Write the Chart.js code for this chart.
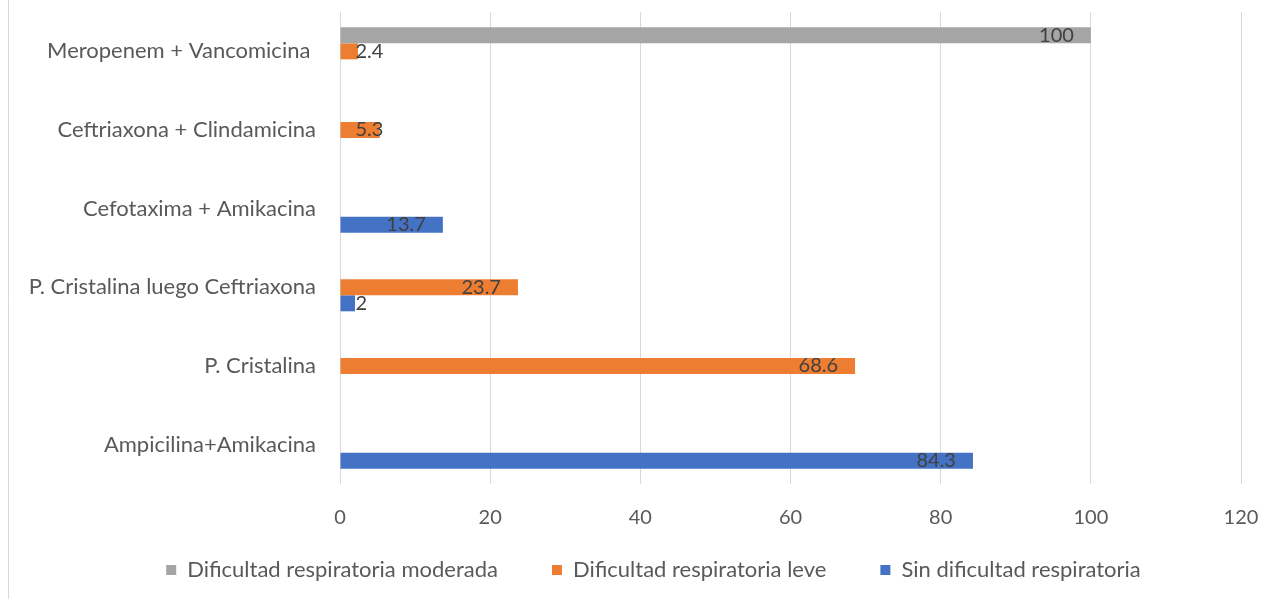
<!DOCTYPE html>
<html>
  <head>
    <meta charset="utf-8" />
    <title>Tratamiento y dificultad respiratoria</title>
    <style>
      html, body { margin: 0; padding: 0; background: #ffffff; }
      canvas { display: block; }
    </style>
  </head>
  <body>
    <canvas id="screen" width="1266" height="599"></canvas>
    <script src="https://cdn.jsdelivr.net/npm/chart.js@4.4.1/dist/chart.umd.min.js"></script>
    <script>
      // categories, top to bottom
      const tratamientos = [
        "Meropenem + Vancomicina ",
        "Ceftriaxona + Clindamicina",
        "Cefotaxima + Amikacina",
        "P. Cristalina luego Ceftriaxona",
        "P. Cristalina",
        "Ampicilina+Amikacina"
      ];

      // percentages per series (null = no bar)
      const moderada = [100, null, null, null, null, null];
      const leve = [2.4, 5.3, null, 23.7, 68.6, null];
      const sinDificultad = [null, null, 13.7, 2, null, 84.3];

      const xTicks = [0, 20, 40, 60, 80, 100, 120];

      const FONT = "Lato";
      const textColor = "#595959";

      // value labels at the inner end of each bar, pushed right when the bar is too short
      const barLabels = {
        id: "barLabels",
        afterDatasetsDraw(chart) {
          const ctx = chart.ctx;
          ctx.save();
          ctx.font = "20px " + FONT;
          ctx.fillStyle = "#404040";
          ctx.textAlign = "right";
          ctx.textBaseline = "middle";
          chart.data.datasets.forEach((ds, i) => {
            const meta = chart.getDatasetMeta(i);
            meta.data.forEach((bar, j) => {
              const v = ds.data[j];
              if (v === null || v === undefined) return;
              const txt = String(v);
              const w = ctx.measureText(txt).width;
              const right = Math.max(bar.x - 17, bar.base + 15 + w);
              ctx.fillText(txt, right, bar.y);
            });
          });
          ctx.restore();
        }
      };

      // thin frame line on the left edge
      const frame = {
        id: "frame",
        beforeDraw(chart) {
          const ctx = chart.ctx;
          ctx.save();
          ctx.strokeStyle = "#d9d9d9";
          ctx.lineWidth = 1;
          ctx.beginPath();
          ctx.moveTo(8.5, 0);
          ctx.lineTo(8.5, chart.height);
          ctx.stroke();
          ctx.restore();
        }
      };

      // nudge the legend row: up closer to the axis, and a bit to the right
      // (bottom is opened up so the legend's clip box does not cut the text)
      const legendPlace = {
        id: "legendPlace",
        afterLayout(chart) {
          const lg = chart.legend;
          lg.top -= 25;
          lg.bottom = chart.height;
          lg.left += 33;
          lg.right += 33;
        }
      };

      const ctx = document.getElementById("screen").getContext("2d");

      const chart = new Chart(ctx, {
        type: "bar",
        data: {
          labels: tratamientos,
          datasets: [
            {
              label: "Dificultad respiratoria moderada",
              data: moderada,
              backgroundColor: "#a5a5a5"
            },
            {
              label: "Dificultad respiratoria leve",
              data: leve,
              backgroundColor: "#ed7d31"
            },
            {
              label: "Sin dificultad respiratoria",
              data: sinDificultad,
              backgroundColor: "#4472c4"
            }
          ]
        },
        options: {
          indexAxis: "y",
          responsive: false,
          animation: false,
          devicePixelRatio: 1,
          layout: { padding: { top: 12, right: 25, left: 0, bottom: 7 } },
          datasets: {
            bar: { categoryPercentage: 0.61, barPercentage: 1, borderWidth: 0 }
          },
          scales: {
            x: {
              min: 0,
              max: 120,
              afterBuildTicks(scale) {
                scale.ticks = xTicks.map(v => ({ value: v }));
              },
              afterFit(scale) {
                scale.height = 46;
                scale.paddingLeft = 0;
                scale.paddingRight = 0;
              },
              grid: { color: "#d9d9d9", lineWidth: 1, drawTicks: false },
              border: { display: false },
              ticks: {
                color: textColor,
                font: { family: FONT, size: 20 },
                padding: 22
              }
            },
            y: {
              afterFit(scale) {
                scale.width = 340;
                scale.paddingTop = 0;
                scale.paddingBottom = 0;
              },
              grid: { display: false, drawTicks: false },
              border: { display: false },
              ticks: {
                color: textColor,
                font: { family: FONT, size: 22 },
                padding: 24
              }
            }
          },
          plugins: {
            legend: {
              position: "bottom",
              maxHeight: 62,
              labels: {
                color: textColor,
                font: { family: FONT, size: 22 },
                boxWidth: 10,
                boxHeight: 10,
                padding: 54
              }
            },
            tooltip: { enabled: false }
          }
        },
        plugins: [frame, legendPlace, barLabels]
      });
    </script>
  </body>
</html>
